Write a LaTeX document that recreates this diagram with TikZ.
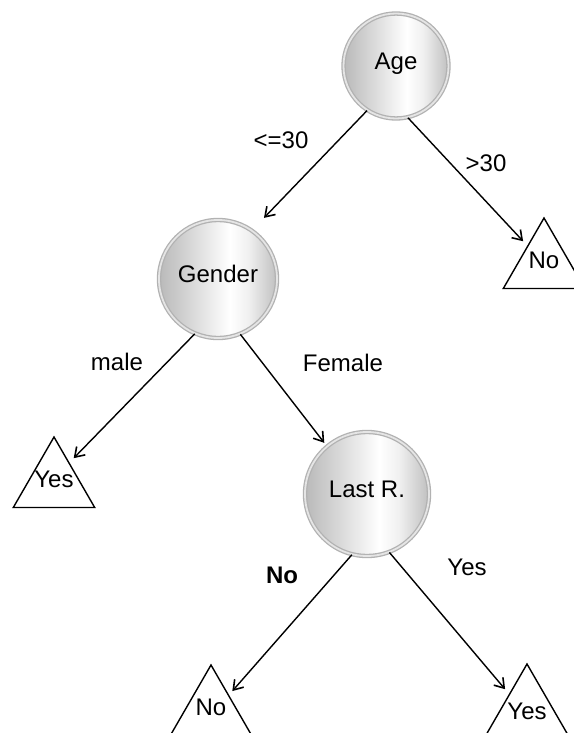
\documentclass[tikz,border=0pt]{standalone}
\usepackage{fontspec}
\setmainfont{Liberation Sans}
\usetikzlibrary{arrows.meta,shapes.geometric,calc}
\pgfdeclarehorizontalshading{ballshade}{100bp}{color(0bp)=(gray!60); color(25bp)=(gray!55); color(40bp)=(gray!28); color(55bp)=(white); color(63bp)=(gray!12); color(75bp)=(gray!50); color(100bp)=(gray!50)}
\begin{document}
\begin{tikzpicture}[x=1pt,y=-1pt,
  txt/.style={font=\fontsize{24}{28}\selectfont, text height=0.716em, text depth=0pt},
  ball/.style={circle, shade, shading=ballshade, draw=gray!60, line width=1.3pt, double=gray!20, double distance=1.8pt, inner sep=0pt, txt},
  leaf/.style={regular polygon, regular polygon sides=3, draw=black, line width=1.4pt, minimum size=94pt, inner sep=0pt},
  leaftext/.style={inner sep=0pt, txt},
  lbl/.style={inner sep=0pt, txt},
  arr/.style={line width=1.4pt, -{Straight Barb[length=9pt,width=12pt,line width=1.6pt]}}]
\useasboundingbox (0,0) rectangle (573,733);
\node[ball, minimum size=105pt] (age) at (396,66) {Age};
\node[ball, minimum size=118pt] (gender) at (218,279) {Gender};
\node[ball, minimum size=124pt] (lastr) at (367,494) {Last R.};
\node[leaf, label={[leaftext]center:No}] (no1) at (544,265) {};
\node[leaf, label={[leaftext]center:Yes}] (yes1) at (54,484) {};
\node[leaf, label={[leaftext]center:No}] (no2) at (211,712) {};
\node[leaf, label={[leaftext, yshift=-5pt]center:Yes}] (yes2) at (527,711) {};
\node[lbl] (l1) at (281,145) {<=30};
\node[lbl] (l2) at (486,168) {>30};
\node[lbl] (l3) at (117,367) {male};
\node[lbl] (l4) at (343,368) {Female};
\node[lbl, font=\fontsize{24}{28}\selectfont\bfseries] (l5) at (282,580) {No};
\node[lbl] (l6) at (467,572) {Yes};
\draw[arr, shorten >=17pt] (age.237) -- (gender.55);
\draw[arr, shorten >=6pt] (age.-77) -- ($(no1.corner 1)!0.4!(no1.corner 2)$);
\draw[arr, shorten >=6pt] (gender.247) -- ($(yes1.corner 1)!0.37!(yes1.corner 3)$);
\draw[arr, shorten >=4pt] (gender.-68) -- (lastr.130);
\draw[arr, shorten >=5pt] (lastr.256) -- ($(no2.corner 1)!0.43!(no2.corner 3)$);
\draw[arr, shorten >=6pt] (lastr.-69) -- ($(yes2.corner 1)!0.43!(yes2.corner 2)$);
\end{tikzpicture}
\end{document}
